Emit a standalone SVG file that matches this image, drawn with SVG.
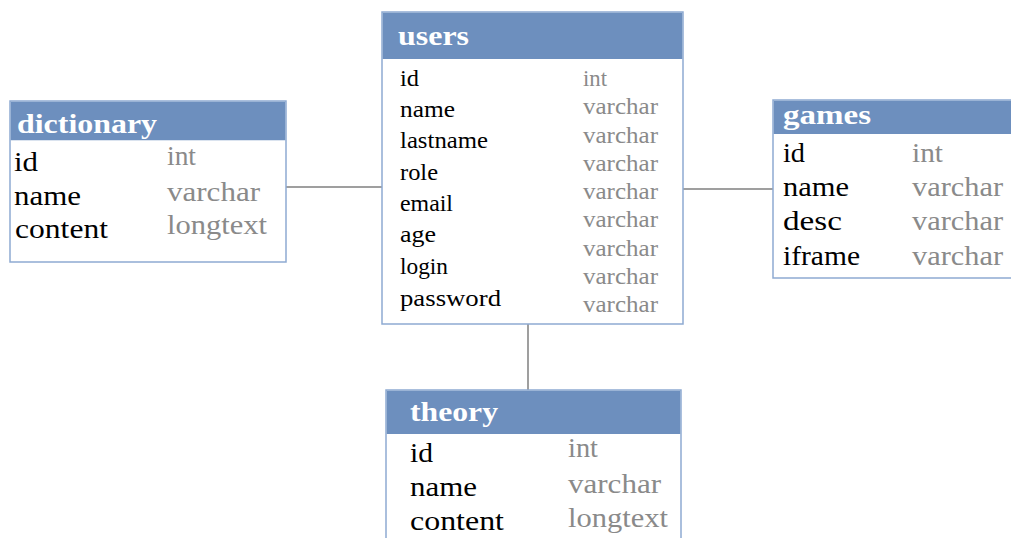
<svg xmlns="http://www.w3.org/2000/svg" width="1011" height="538" viewBox="0 0 1011 538">
<style>
.box{fill:#fff;stroke:#8eaad2;stroke-width:1.5}
.hdr{fill:#6d8fbe}
.ht{font-family:"Liberation Serif",serif;font-weight:bold;fill:#fff;font-size:28px}
.n{font-family:"Liberation Serif",serif;fill:#000;font-size:28px}
.t{font-family:"Liberation Serif",serif;fill:#8a8a8a;font-size:28px}
.s{font-size:24px}
.conn{stroke:#7f7f7f;stroke-width:1.5;fill:none}
</style>
<rect width="1011" height="538" fill="#fff"/>
<g id="connectors">
<line class="conn" x1="286" y1="187" x2="382" y2="187"/>
<line class="conn" x1="683" y1="189" x2="773" y2="189"/>
<line class="conn" x1="528" y1="324" x2="528" y2="390"/>
</g>
<g id="dictionary">
<rect class="box" x="10" y="101" width="276" height="161"/>
<rect class="hdr" x="10.75" y="101.75" width="274.5" height="38.5"/>
<text class="ht" x="17" y="133" textLength="140" lengthAdjust="spacingAndGlyphs">dictionary</text>
<text class="n" x="14" y="171" textLength="24" lengthAdjust="spacingAndGlyphs">id</text>
<text class="n" x="14" y="205" textLength="67" lengthAdjust="spacingAndGlyphs">name</text>
<text class="n" x="15" y="238" textLength="93" lengthAdjust="spacingAndGlyphs">content</text>
<text class="t" x="167" y="165" textLength="29" lengthAdjust="spacingAndGlyphs">int</text>
<text class="t" x="167" y="201" textLength="93" lengthAdjust="spacingAndGlyphs">varchar</text>
<text class="t" x="167" y="234" textLength="100" lengthAdjust="spacingAndGlyphs">longtext</text>
</g>
<g id="users">
<rect class="box" x="382" y="12" width="301" height="312"/>
<rect class="hdr" x="382.75" y="12.75" width="299.5" height="46.25"/>
<text class="ht" x="398" y="45" textLength="71" lengthAdjust="spacingAndGlyphs">users</text>
<text class="n s" x="400" y="86" textLength="19" lengthAdjust="spacingAndGlyphs">id</text>
<text class="n s" x="400" y="117" textLength="55" lengthAdjust="spacingAndGlyphs">name</text>
<text class="n s" x="400" y="148" textLength="88" lengthAdjust="spacingAndGlyphs">lastname</text>
<text class="n s" x="400" y="180" textLength="38" lengthAdjust="spacingAndGlyphs">role</text>
<text class="n s" x="400" y="211" textLength="53" lengthAdjust="spacingAndGlyphs">email</text>
<text class="n s" x="400" y="242" textLength="36" lengthAdjust="spacingAndGlyphs">age</text>
<text class="n s" x="400" y="274" textLength="48" lengthAdjust="spacingAndGlyphs">login</text>
<text class="n s" x="400" y="306" textLength="101" lengthAdjust="spacingAndGlyphs">password</text>
<text class="t s" x="583" y="86" textLength="24" lengthAdjust="spacingAndGlyphs">int</text>
<text class="t s" x="583" y="114" textLength="75" lengthAdjust="spacingAndGlyphs">varchar</text>
<text class="t s" x="583" y="143" textLength="75" lengthAdjust="spacingAndGlyphs">varchar</text>
<text class="t s" x="583" y="171" textLength="75" lengthAdjust="spacingAndGlyphs">varchar</text>
<text class="t s" x="583" y="199" textLength="75" lengthAdjust="spacingAndGlyphs">varchar</text>
<text class="t s" x="583" y="227" textLength="75" lengthAdjust="spacingAndGlyphs">varchar</text>
<text class="t s" x="583" y="256" textLength="75" lengthAdjust="spacingAndGlyphs">varchar</text>
<text class="t s" x="583" y="284" textLength="75" lengthAdjust="spacingAndGlyphs">varchar</text>
<text class="t s" x="583" y="312" textLength="75" lengthAdjust="spacingAndGlyphs">varchar</text>
</g>
<g id="games">
<rect class="box" x="773" y="100" width="260" height="178"/>
<rect class="hdr" x="773.75" y="100.75" width="258" height="33.25"/>
<text class="ht" x="783" y="124" textLength="88" lengthAdjust="spacingAndGlyphs">games</text>
<text class="n" x="783" y="162" textLength="22" lengthAdjust="spacingAndGlyphs">id</text>
<text class="n" x="783" y="196" textLength="66" lengthAdjust="spacingAndGlyphs">name</text>
<text class="n" x="783" y="230" textLength="59" lengthAdjust="spacingAndGlyphs">desc</text>
<text class="n" x="783" y="265" textLength="77" lengthAdjust="spacingAndGlyphs">iframe</text>
<text class="t" x="912" y="162" textLength="31" lengthAdjust="spacingAndGlyphs">int</text>
<text class="t" x="912" y="196" textLength="91" lengthAdjust="spacingAndGlyphs">varchar</text>
<text class="t" x="912" y="230" textLength="91" lengthAdjust="spacingAndGlyphs">varchar</text>
<text class="t" x="912" y="265" textLength="91" lengthAdjust="spacingAndGlyphs">varchar</text>
</g>
<g id="theory">
<rect class="box" x="386" y="390" width="295" height="170"/>
<rect class="hdr" x="386.75" y="390.75" width="293.5" height="43.25"/>
<text class="ht" x="410" y="421" textLength="88" lengthAdjust="spacingAndGlyphs">theory</text>
<text class="n" x="410" y="462" textLength="23" lengthAdjust="spacingAndGlyphs">id</text>
<text class="n" x="410" y="496" textLength="67" lengthAdjust="spacingAndGlyphs">name</text>
<text class="n" x="410" y="530" textLength="94" lengthAdjust="spacingAndGlyphs">content</text>
<text class="t" x="568" y="457" textLength="30" lengthAdjust="spacingAndGlyphs">int</text>
<text class="t" x="568" y="493" textLength="93" lengthAdjust="spacingAndGlyphs">varchar</text>
<text class="t" x="568" y="527" textLength="100" lengthAdjust="spacingAndGlyphs">longtext</text>
</g>
</svg>
